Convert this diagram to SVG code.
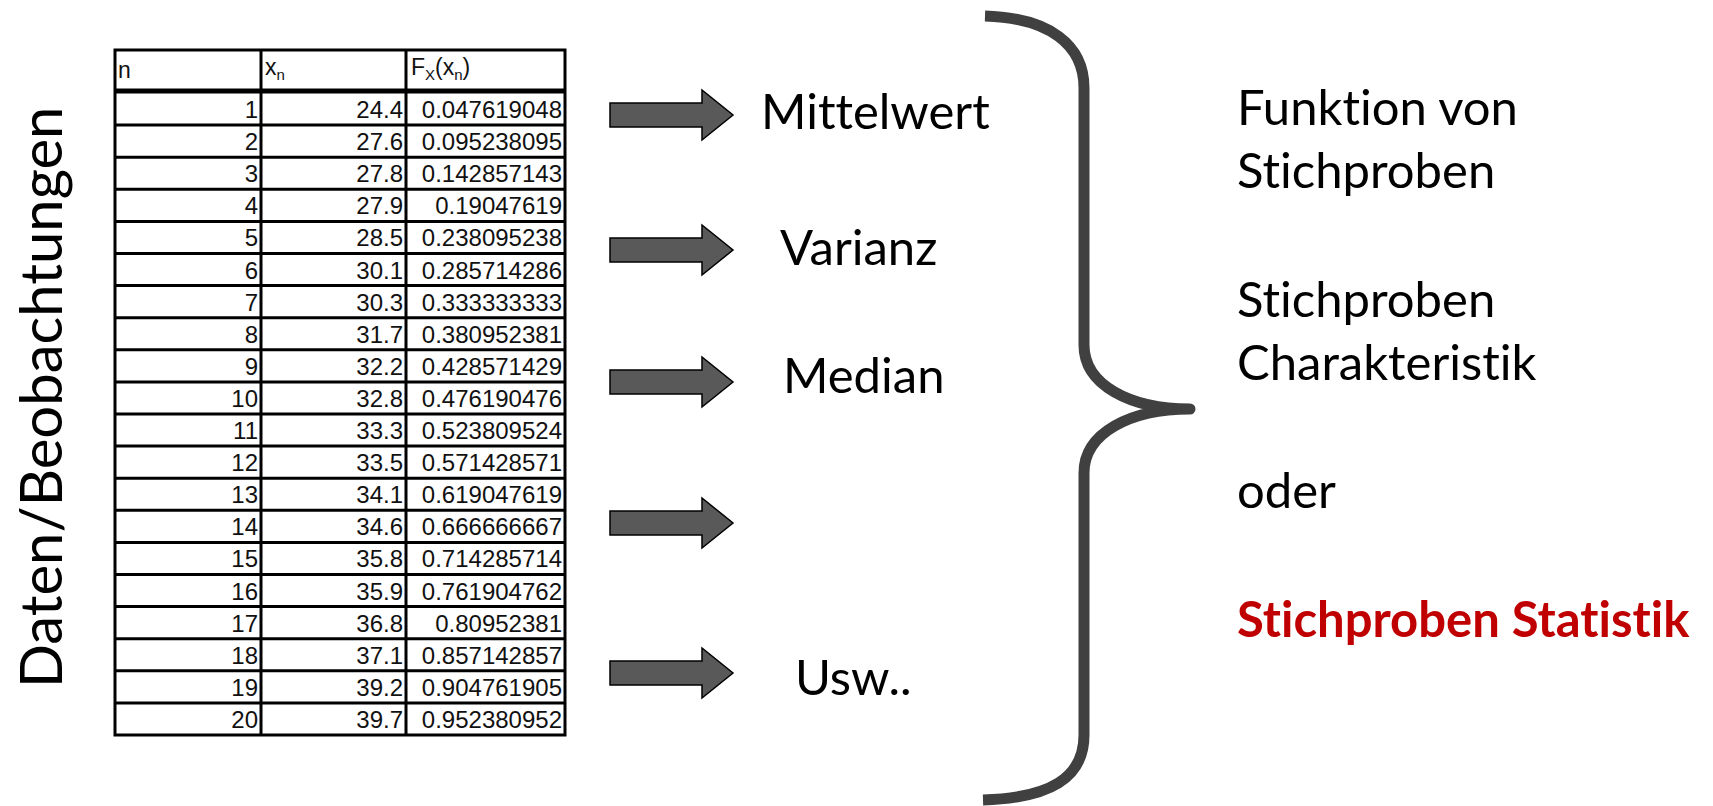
<svg xmlns="http://www.w3.org/2000/svg" width="1713" height="806" viewBox="0 0 1713 806">
<style>
.cal{font-family:Lato,"Open Sans","Liberation Sans",sans-serif;fill:#000;font-variant-ligatures:none;font-feature-settings:"liga" 0}
.big{font-size:49px}
.tb{font-family:"Liberation Sans",Arial,sans-serif;font-size:24px;fill:#111}
.hd{font-family:"Liberation Sans",Arial,sans-serif;font-size:23px;fill:#111}
.sub{font-size:15px}
.grid{stroke:#000;stroke-width:3;fill:none}
.arrow{fill:#595959;stroke:#000;stroke-width:1.5;stroke-linejoin:miter}
.brace{fill:none;stroke:#404040;stroke-width:11;stroke-linejoin:round;stroke-linecap:butt}
.red{fill:#C00000;font-weight:bold}
</style>
<defs>
<polygon id="arr" class="arrow" points="610,-12 702,-12 702,-25 733,0 702,25 702,12 610,12"/>
</defs>

<g id="label-daten">
<text class="cal" font-size="58" transform="translate(62,688) rotate(-90)">Daten/Beobachtungen</text>
</g>

<g id="table">
<rect class="grid" x="115" y="50" width="450" height="685" fill="#fff"/>
<line class="grid" x1="261" y1="50" x2="261" y2="735"/>
<line class="grid" x1="406" y1="50" x2="406" y2="735"/>
<line x1="115" y1="91" x2="565" y2="91" stroke="#000" stroke-width="5"/>
<g class="grid">
<line x1="115" y1="125.1" x2="565" y2="125.1"/>
<line x1="115" y1="157.2" x2="565" y2="157.2"/>
<line x1="115" y1="189.3" x2="565" y2="189.3"/>
<line x1="115" y1="221.4" x2="565" y2="221.4"/>
<line x1="115" y1="253.5" x2="565" y2="253.5"/>
<line x1="115" y1="285.6" x2="565" y2="285.6"/>
<line x1="115" y1="317.7" x2="565" y2="317.7"/>
<line x1="115" y1="349.8" x2="565" y2="349.8"/>
<line x1="115" y1="381.9" x2="565" y2="381.9"/>
<line x1="115" y1="414.0" x2="565" y2="414.0"/>
<line x1="115" y1="446.1" x2="565" y2="446.1"/>
<line x1="115" y1="478.2" x2="565" y2="478.2"/>
<line x1="115" y1="510.3" x2="565" y2="510.3"/>
<line x1="115" y1="542.4" x2="565" y2="542.4"/>
<line x1="115" y1="574.5" x2="565" y2="574.5"/>
<line x1="115" y1="606.6" x2="565" y2="606.6"/>
<line x1="115" y1="638.7" x2="565" y2="638.7"/>
<line x1="115" y1="670.8" x2="565" y2="670.8"/>
<line x1="115" y1="702.9" x2="565" y2="702.9"/>
</g>
<text class="hd" x="118" y="78">n</text>
<text class="hd" x="265" y="75">x<tspan class="sub" dy="5">n</tspan></text>
<text class="hd" x="411" y="75">F<tspan class="sub" dy="5">X</tspan><tspan dy="-5">(x</tspan><tspan class="sub" dy="5">n</tspan><tspan dy="-5">)</tspan></text>
<g class="tb" text-anchor="end">
<text x="258" y="118">1</text><text x="403" y="118">24.4</text><text x="562" y="118">0.047619048</text>
<text x="258" y="150.1">2</text><text x="403" y="150.1">27.6</text><text x="562" y="150.1">0.095238095</text>
<text x="258" y="182.2">3</text><text x="403" y="182.2">27.8</text><text x="562" y="182.2">0.142857143</text>
<text x="258" y="214.3">4</text><text x="403" y="214.3">27.9</text><text x="562" y="214.3">0.19047619</text>
<text x="258" y="246.4">5</text><text x="403" y="246.4">28.5</text><text x="562" y="246.4">0.238095238</text>
<text x="258" y="278.5">6</text><text x="403" y="278.5">30.1</text><text x="562" y="278.5">0.285714286</text>
<text x="258" y="310.6">7</text><text x="403" y="310.6">30.3</text><text x="562" y="310.6">0.333333333</text>
<text x="258" y="342.7">8</text><text x="403" y="342.7">31.7</text><text x="562" y="342.7">0.380952381</text>
<text x="258" y="374.8">9</text><text x="403" y="374.8">32.2</text><text x="562" y="374.8">0.428571429</text>
<text x="258" y="406.9">10</text><text x="403" y="406.9">32.8</text><text x="562" y="406.9">0.476190476</text>
<text x="258" y="439.0">11</text><text x="403" y="439.0">33.3</text><text x="562" y="439.0">0.523809524</text>
<text x="258" y="471.1">12</text><text x="403" y="471.1">33.5</text><text x="562" y="471.1">0.571428571</text>
<text x="258" y="503.2">13</text><text x="403" y="503.2">34.1</text><text x="562" y="503.2">0.619047619</text>
<text x="258" y="535.3">14</text><text x="403" y="535.3">34.6</text><text x="562" y="535.3">0.666666667</text>
<text x="258" y="567.4">15</text><text x="403" y="567.4">35.8</text><text x="562" y="567.4">0.714285714</text>
<text x="258" y="599.5">16</text><text x="403" y="599.5">35.9</text><text x="562" y="599.5">0.761904762</text>
<text x="258" y="631.6">17</text><text x="403" y="631.6">36.8</text><text x="562" y="631.6">0.80952381</text>
<text x="258" y="663.7">18</text><text x="403" y="663.7">37.1</text><text x="562" y="663.7">0.857142857</text>
<text x="258" y="695.8">19</text><text x="403" y="695.8">39.2</text><text x="562" y="695.8">0.904761905</text>
<text x="258" y="727.9">20</text><text x="403" y="727.9">39.7</text><text x="562" y="727.9">0.952380952</text>
</g>
</g>

<g id="connectors">
<use href="#arr" y="115"/>
<use href="#arr" y="250"/>
<use href="#arr" y="382"/>
<use href="#arr" y="523"/>
<use href="#arr" y="673"/>
</g>

<g id="stat-mittelwert"><text class="cal big" x="761" y="129">Mittelwert</text></g>
<g id="stat-varianz"><text class="cal big" x="780" y="265">Varianz</text></g>
<g id="stat-median"><text class="cal big" x="783" y="393">Median</text></g>
<g id="stat-usw"><text class="cal big" x="795" y="695">Usw..</text></g>

<g id="brace">
<path class="brace" d="M985,16 C1050,18 1084,45 1084,88 L1084,345 C1084,385 1130,409 1190,409 C1130,409 1084,433 1084,473 L1084,735 C1084,778 1050,798 983,800"/>
</g>

<g id="description">
<text class="cal big" x="1237" y="125">Funktion von</text>
<text class="cal big" x="1237" y="188">Stichproben</text>
<text class="cal big" x="1237" y="317">Stichproben</text>
<text class="cal big" x="1237" y="380">Charakteristik</text>
<text class="cal big" x="1237" y="508">oder</text>
<text class="cal big red" x="1237" y="637">Stichproben Statistik</text>
</g>
</svg>
